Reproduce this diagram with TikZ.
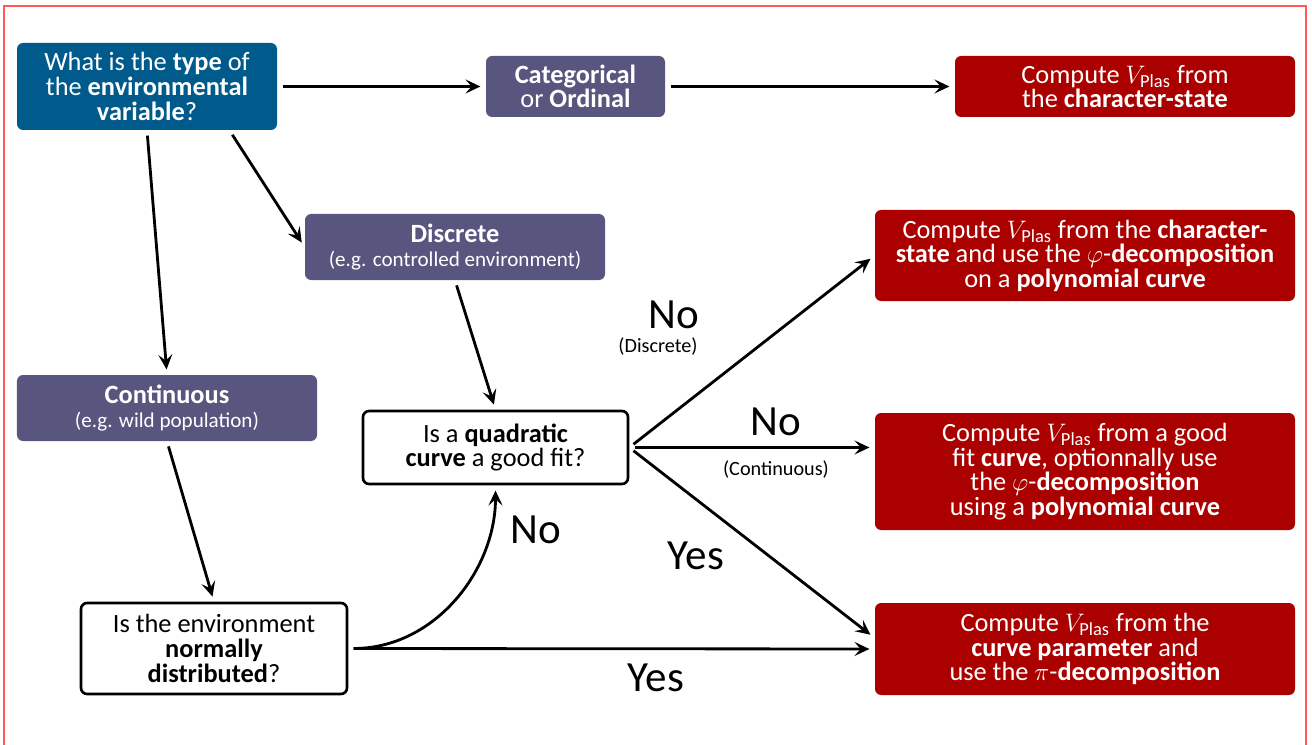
\documentclass[tikz,border=0pt]{standalone}
\usepackage{amsmath}
\usepackage{fontspec}
\setmainfont{Carlito}
\usetikzlibrary{arrows.meta}
\definecolor{typeblue}{HTML}{005A8B}
\definecolor{kindpurple}{HTML}{58567E}
\definecolor{resred}{HTML}{AA0000}
\definecolor{framered}{HTML}{FF5A5A}
\newcommand{\vplas}{$V_{\text{Plas}}$}
\newcommand{\egsize}{\fontsize{12}{13}\selectfont}

\begin{document}
\begin{tikzpicture}[>={Stealth[length=8.5pt, width=8pt, inset=3.5pt]},
  box/.style={rectangle, rounded corners=3.5pt, align=center, inner sep=2pt, font=\fontsize{15}{14}\selectfont},
  typebox/.style={box, fill=typeblue, text=white},
  kindbox/.style={box, fill=kindpurple, text=white},
  resbox/.style={box, fill=resred, text=white},
  askbox/.style={box, draw, line width=1.5pt, fill=white},
  link/.style={->, line width=1.6pt, shorten <=3pt, shorten >=3pt},
  answer/.style={font=\fontsize{24.5}{26}\selectfont},
  note/.style={font=\fontsize{11.5}{12}\selectfont}]
\useasboundingbox (0,0) rectangle (26.24,-14.9);
\draw[framered, line width=0.6pt] (0.08,-0.12) rectangle (26.12,-15.5);

\node[typebox, minimum width=5.2cm, minimum height=1.74cm] (type) at (2.94,-1.73) {What is the \textbf{type} of\\ the \textbf{environmental}\\ \textbf{variable}?};
\node[kindbox, minimum width=3.58cm, minimum height=1.22cm] (cat) at (11.51,-1.73) {\textbf{Categorical}\\ or \textbf{Ordinal}};
\node[resbox, minimum width=6.8cm, minimum height=1.22cm] (r1) at (22.5,-1.73) {Compute \vplas{} from\\ the \textbf{character-state}};

\node[kindbox, minimum width=6.0cm, minimum height=1.32cm] (disc) at (9.1,-4.94) {\textbf{Discrete}\\ {\egsize (e.g. controlled environment)}};
\node[resbox, minimum width=8.4cm, minimum height=1.82cm] (r2) at (21.7,-5.11) {Compute \vplas{} from the \textbf{character-}\\ \textbf{state} and use the $\varphi$-\textbf{decomposition}\\ on a \textbf{polynomial curve}};

\node[kindbox, minimum width=6.0cm, minimum height=1.32cm] (cont) at (3.34,-8.16) {\textbf{Continuous}\\ {\egsize (e.g. wild population)}};
\node[askbox, minimum width=5.3cm, minimum height=1.46cm] (quad) at (9.91,-8.95) {Is a \textbf{quadratic}\\ \textbf{curve} a good fit?};
\node[resbox, minimum width=8.4cm, minimum height=2.34cm] (r3) at (21.7,-9.43) {Compute \vplas{} from a good\\ fit \textbf{curve}, optionnally use\\ the $\varphi$-\textbf{decomposition}\\ using a \textbf{polynomial curve}};

\node[askbox, minimum width=5.32cm, minimum height=1.82cm] (norm) at (4.28,-12.97) {Is the environment\\ \textbf{normally}\\ \textbf{distributed}?};
\node[resbox, minimum width=8.4cm, minimum height=1.84cm] (r4) at (21.7,-12.98) {Compute \vplas{} from the\\ \textbf{curve parameter} and\\ use the $\pi$-\textbf{decomposition}};

% answers on the branches
\node[answer] (nodisc) at (13.48,-6.3) {No};
\node[note] (nodisctxt) at (13.16,-6.94) {(Discrete)};
\node[answer] (nocont) at (15.52,-8.44) {No};
\node[note] (noconttxt) at (15.52,-9.4) {(Continuous)};
\node[answer] (yesquad) at (13.92,-11.12) {Yes};
\node[answer] (nonorm) at (10.72,-10.6) {No};
\node[answer] (yesnorm) at (13.12,-13.56) {Yes};

\draw[link] (type) -- (cat);
\draw[link] (cat) -- (r1);
\draw[link] (type.south) -- (cont.north);
\draw[link] (type.-28) -- (disc.west);
\draw[link] (disc.south) -- (quad.north);
\draw[link] (cont.south) -- (norm.north);
\draw[link] (norm.east) -- (r4.west);
\draw[link] (norm.east) .. controls (8.7,-12.97) and (9.91,-11.4) .. (quad.south);
\draw[link] (quad.east) -- (r2.west);
\draw[link] (quad.east) -- (quad.east -| r3.west);
\draw[link] (quad.east) -- ([yshift=0.22cm]r4.west);
\end{tikzpicture}
\end{document}
